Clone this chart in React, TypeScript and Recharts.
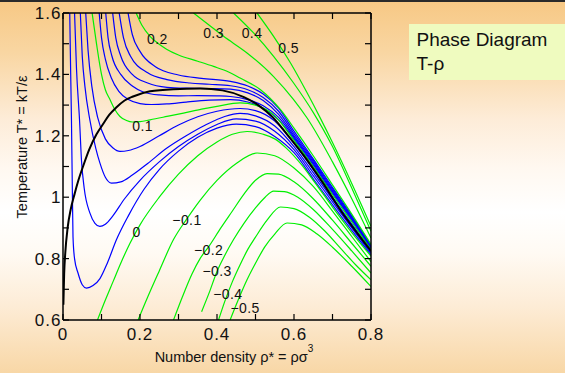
import React from 'react';
import { ComposedChart, Line, Scatter, XAxis, YAxis } from 'recharts';

type P = [number, number];

const xTicks = [0, 0.1, 0.2, 0.3, 0.4, 0.5, 0.6, 0.7, 0.8];
const yTicks = [0.6, 0.7, 0.8, 0.9, 1.0, 1.1, 1.2, 1.3, 1.4, 1.5, 1.6];

// coexistence curve (black)
const coexistence: P[] = [[0.001,0.65],[0.003,0.75],[0.006,0.82],[0.012,0.9],[0.02,0.96],[0.03,1.01],[0.04,1.055],[0.052,1.1],[0.068,1.155],[0.087,1.205],[0.105,1.24],[0.12,1.268],[0.139,1.293],[0.16,1.315],[0.182,1.328],[0.226,1.345],[0.287,1.352],[0.356,1.354],[0.414,1.348],[0.47,1.326],[0.507,1.3],[0.545,1.26],[0.582,1.205],[0.629,1.13],[0.676,1.045],[0.722,0.955],[0.769,0.875],[0.8,0.825]];

// labelled isobars (green)
const p05: P[] = [[0.504,1.6],[0.547,1.524],[0.591,1.437],[0.634,1.34],[0.669,1.256],[0.7,1.178],[0.75,1.045],[0.8,0.905]];
const p04: P[] = [[0.443,1.6],[0.495,1.535],[0.547,1.459],[0.599,1.372],[0.651,1.274],[0.7,1.165],[0.75,1.03],[0.8,0.889]];
const p03: P[] = [[0.339,1.6],[0.38,1.56],[0.417,1.524],[0.478,1.47],[0.547,1.393],[0.599,1.318],[0.634,1.258],[0.7,1.115],[0.75,0.995],[0.8,0.867]];
const p02: P[] = [[0.19,1.6],[0.205,1.56],[0.226,1.524],[0.25,1.498],[0.269,1.482],[0.3,1.463],[0.35,1.443],[0.391,1.426],[0.43,1.408],[0.46,1.388],[0.513,1.35],[0.565,1.285],[0.6,1.225],[0.65,1.135],[0.7,1.04],[0.75,0.945],[0.8,0.846]];
const p01: P[] = [[0.0756,1.6],[0.087,1.5],[0.1,1.4],[0.11,1.35],[0.122,1.318],[0.135,1.285],[0.148,1.263],[0.165,1.25],[0.18,1.245],[0.2,1.246],[0.226,1.252],[0.27,1.263],[0.313,1.274],[0.36,1.287],[0.4,1.296],[0.46,1.307],[0.5,1.3],[0.55,1.265],[0.6,1.185],[0.65,1.1],[0.7,1.008],[0.75,0.92],[0.8,0.829]];
const p00: P[] = [[0.0896,0.6],[0.11,0.665],[0.13,0.725],[0.15,0.785],[0.174,0.85],[0.2,0.91],[0.25,1.0],[0.3,1.075],[0.35,1.135],[0.4,1.18],[0.44,1.205],[0.478,1.214],[0.52,1.205],[0.55,1.19],[0.58,1.16],[0.62,1.105],[0.65,1.055],[0.7,0.968],[0.75,0.885],[0.8,0.808]];
const m01: P[] = [[0.195,0.6],[0.22,0.675],[0.25,0.76],[0.287,0.862],[0.322,0.93],[0.356,0.99],[0.4,1.055],[0.45,1.11],[0.504,1.144],[0.55,1.135],[0.6,1.095],[0.65,1.035],[0.7,0.955],[0.75,0.872],[0.8,0.79]];
const m02: P[] = [[0.287,0.6],[0.31,0.675],[0.335,0.75],[0.356,0.8],[0.378,0.838],[0.41,0.9],[0.44,0.955],[0.47,1.01],[0.5,1.055],[0.53,1.077],[0.56,1.075],[0.6,1.05],[0.65,0.995],[0.7,0.925],[0.75,0.85],[0.8,0.775]];
const m03: P[] = [[0.36,0.627],[0.38,0.69],[0.4,0.758],[0.42,0.81],[0.443,0.862],[0.47,0.915],[0.5,0.965],[0.525,1.0],[0.547,1.02],[0.575,1.018],[0.61,1.0],[0.65,0.96],[0.7,0.895],[0.75,0.825],[0.8,0.753]];
const m04: P[] = [[0.404,0.6],[0.42,0.66],[0.44,0.725],[0.46,0.78],[0.48,0.83],[0.5,0.87],[0.53,0.925],[0.565,0.968],[0.6,0.963],[0.64,0.935],[0.68,0.89],[0.72,0.835],[0.76,0.78],[0.8,0.731]];
const m05: P[] = [[0.434,0.6],[0.455,0.665],[0.478,0.731],[0.5,0.785],[0.525,0.84],[0.55,0.88],[0.582,0.916],[0.62,0.91],[0.66,0.88],[0.7,0.837],[0.75,0.775],[0.8,0.709]];

// intermediate isobars (blue)
const b02: P[] = [[0.0175,1.6],[0.02,1.4],[0.022,1.25],[0.024,1.05],[0.026,0.87],[0.03,0.8],[0.039,0.753],[0.05,0.715],[0.061,0.704],[0.078,0.712],[0.096,0.735],[0.115,0.785],[0.139,0.862],[0.17,0.94],[0.21,1.025],[0.25,1.09],[0.3,1.15],[0.35,1.195],[0.4,1.225],[0.45,1.238],[0.5,1.23],[0.55,1.198],[0.6,1.145],[0.65,1.06],[0.7,0.975],[0.75,0.892],[0.8,0.812]];
const b04: P[] = [[0.03,1.6],[0.035,1.42],[0.043,1.25],[0.048,1.12],[0.055,1.03],[0.07,0.948],[0.083,0.915],[0.0956,0.905],[0.11,0.912],[0.13,0.94],[0.16,0.995],[0.2,1.055],[0.25,1.115],[0.3,1.165],[0.35,1.205],[0.4,1.237],[0.45,1.255],[0.5,1.248],[0.55,1.215],[0.6,1.155],[0.65,1.07],[0.7,0.985],[0.75,0.9],[0.8,0.817]];
const b06: P[] = [[0.045,1.6],[0.05,1.46],[0.057,1.36],[0.07,1.25],[0.085,1.16],[0.096,1.111],[0.11,1.065],[0.126,1.046],[0.15,1.05],[0.18,1.072],[0.22,1.11],[0.27,1.16],[0.32,1.2],[0.37,1.235],[0.42,1.263],[0.46,1.273],[0.5,1.265],[0.55,1.232],[0.6,1.165],[0.65,1.08],[0.7,0.993],[0.75,0.907],[0.8,0.821]];
const b08: P[] = [[0.059,1.6],[0.065,1.48],[0.075,1.36],[0.09,1.26],[0.11,1.19],[0.13,1.16],[0.148,1.149],[0.17,1.152],[0.2,1.165],[0.25,1.2],[0.3,1.235],[0.35,1.262],[0.4,1.28],[0.46,1.289],[0.5,1.282],[0.55,1.248],[0.6,1.175],[0.65,1.09],[0.7,1.0],[0.75,0.913],[0.8,0.825]];
const b12: P[] = [[0.094,1.6],[0.1,1.52],[0.11,1.45],[0.125,1.39],[0.145,1.345],[0.17,1.318],[0.2,1.305],[0.23,1.302],[0.27,1.304],[0.32,1.31],[0.38,1.316],[0.435,1.318],[0.48,1.31],[0.52,1.29],[0.56,1.252],[0.6,1.19],[0.65,1.105],[0.7,1.013],[0.75,0.925],[0.8,0.832]];
const b13: P[] = [[0.111,1.6],[0.117,1.52],[0.127,1.46],[0.15,1.4],[0.18,1.362],[0.21,1.342],[0.25,1.333],[0.3,1.33],[0.35,1.331],[0.4,1.33],[0.435,1.328],[0.48,1.318],[0.52,1.298],[0.56,1.26],[0.6,1.195],[0.65,1.11],[0.7,1.018],[0.75,0.928],[0.8,0.835]];
const b15: P[] = [[0.129,1.6],[0.137,1.52],[0.15,1.46],[0.18,1.4],[0.22,1.372],[0.27,1.358],[0.32,1.355],[0.38,1.354],[0.435,1.352],[0.48,1.34],[0.52,1.315],[0.56,1.27],[0.6,1.2],[0.65,1.115],[0.7,1.022],[0.75,0.932],[0.8,0.838]];
const b17: P[] = [[0.146,1.6],[0.157,1.52],[0.175,1.46],[0.22,1.405],[0.27,1.383],[0.33,1.372],[0.38,1.368],[0.435,1.363],[0.48,1.35],[0.52,1.325],[0.56,1.28],[0.6,1.207],[0.65,1.12],[0.7,1.027],[0.75,0.936],[0.8,0.841]];
const b18: P[] = [[0.169,1.6],[0.18,1.53],[0.2,1.475],[0.24,1.425],[0.3,1.398],[0.36,1.387],[0.435,1.377],[0.48,1.362],[0.52,1.336],[0.56,1.29],[0.6,1.215],[0.65,1.125],[0.7,1.032],[0.75,0.94],[0.8,0.844]];

const blueCurves = [b02, b04, b06, b08, b12, b13, b15, b17, b18];
const greenCurves = [p05, p04, p03, p02, p01, p00, m01, m02, m03, m04, m05];

// contour labels
const labelText = ['0.5', '0.4', '0.3', '0.2', '0.1', '0', '\u22120.1', '\u22120.2', '\u22120.3', '\u22120.4', '\u22120.5'];
const labelRho = [0.586, 0.491, 0.391, 0.245, 0.207, 0.191, 0.322, 0.378, 0.4, 0.428, 0.473];
const labelT = [1.486, 1.535, 1.535, 1.515, 1.231, 0.886, 0.927, 0.829, 0.758, 0.686, 0.639];

const toPts = (c: P[]) => c.map(([rho, t]) => ({ rho, t }));
const labelPts = labelText.map((text, i) => ({ rho: labelRho[i], t: labelT[i], text }));

const FONT = '"Liberation Sans", Arial, Helvetica, sans-serif';
const fmt = (v: number) => String(Math.round(v * 10) / 10);
const isMajor = (v: number) => Math.round(v * 10) % 2 === 0;

const BottomTick = (props: any) => {
  const { x, y, payload } = props;
  const v = payload.value;
  return (
    <g>
      <line x1={x} x2={x} y1={y} y2={y - 6} stroke="#000" strokeWidth={1.2} />
      {isMajor(v) && (
        <text x={x} y={y + 20} textAnchor="middle" fontSize={17} letterSpacing={1} fill="#111" fontFamily={FONT}>
          {fmt(v)}
        </text>
      )}
    </g>
  );
};
const TopTick = (props: any) => {
  const { x, y } = props;
  return <line x1={x} x2={x} y1={y} y2={y + 6} stroke="#000" strokeWidth={1.2} />;
};
const LeftTick = (props: any) => {
  const { x, y, payload } = props;
  const v = payload.value;
  return (
    <g>
      <line x1={x} x2={x + 6} y1={y} y2={y} stroke="#000" strokeWidth={1.2} />
      {isMajor(v) && (
        <text x={x - 1.5} y={y + 6} textAnchor="end" fontSize={17} letterSpacing={1} fill="#111" fontFamily={FONT}>
          {fmt(v)}
        </text>
      )}
    </g>
  );
};
const RightTick = (props: any) => {
  const { x, y } = props;
  return <line x1={x} x2={x - 6} y1={y} y2={y} stroke="#000" strokeWidth={1.2} />;
};

const LabelShape = (props: any) => {
  const { cx, cy, payload } = props;
  return (
    <text x={cx} y={cy + 5} textAnchor="middle" fontSize={14} letterSpacing={0.4} fill="#111" fontFamily={FONT}>
      {payload.text}
    </text>
  );
};

const axisLine = { stroke: '#000', strokeWidth: 1.5 };

export default function App() {
  return (
    <div
      style={{
        position: 'absolute',
        left: 0,
        top: 0,
        width: 565,
        height: 373,
        overflow: 'hidden',
        fontFamily: FONT,
        background:
          'linear-gradient(to bottom, #f7c884 0%, #f9d6a2 14%, #fdecd8 32%, #fff8f0 45%, #ffffff 57%, #fffaf3 68%, #fdecd6 82%, #f8d7a6 100%)',
      }}
    >
      <div style={{ position: 'absolute', left: 0, top: 0, width: 565, height: 2, background: '#2a2a2a' }} />
      <div style={{ position: 'absolute', left: 0, top: 0 }}>
        <ComposedChart width={565} height={373} margin={{ top: 12, right: 193, bottom: 22, left: 13 }}>
          <XAxis
            dataKey="rho"
            type="number"
            domain={[0, 0.8]}
            ticks={xTicks}
            interval={0}
            allowDataOverflow
            height={31}
            tickSize={0}
            tickMargin={0}
            axisLine={axisLine}
            tick={<BottomTick />}
          />
          <XAxis
            xAxisId="top"
            orientation="top"
            dataKey="rho"
            type="number"
            domain={[0, 0.8]}
            ticks={xTicks}
            interval={0}
            allowDataOverflow
            height={1}
            tickSize={0}
            tickMargin={0}
            axisLine={axisLine}
            tick={<TopTick />}
          />
          <YAxis
            type="number"
            domain={[0.6, 1.6]}
            ticks={yTicks}
            interval={0}
            allowDataOverflow
            width={50}
            tickSize={0}
            tickMargin={0}
            axisLine={axisLine}
            tick={<LeftTick />}
          />
          <YAxis
            yAxisId="right"
            orientation="right"
            type="number"
            domain={[0.6, 1.6]}
            ticks={yTicks}
            interval={0}
            allowDataOverflow
            width={1}
            tickSize={0}
            tickMargin={0}
            axisLine={axisLine}
            tick={<RightTick />}
          />
          {blueCurves.map((c, i) => (
            <Line
              key={'b' + i}
              data={toPts(c)}
              dataKey="t"
              type="monotone"
              stroke="#0000ff"
              strokeWidth={1.2}
              dot={false}
              activeDot={false}
              isAnimationActive={false}
            />
          ))}
          {greenCurves.map((c, i) => (
            <Line
              key={'g' + i}
              data={toPts(c)}
              dataKey="t"
              type="monotone"
              stroke="#00f000"
              strokeWidth={1.2}
              dot={false}
              activeDot={false}
              isAnimationActive={false}
            />
          ))}
          <Line
            data={toPts(coexistence)}
            dataKey="t"
            type="monotone"
            stroke="#000"
            strokeWidth={2}
            dot={false}
            activeDot={false}
            isAnimationActive={false}
          />
          <Scatter data={labelPts} dataKey="t" shape={<LabelShape />} isAnimationActive={false} />
        </ComposedChart>
      </div>
      <div
        style={{
          position: 'absolute',
          left: 21.5 - 110,
          top: 147 - 9,
          width: 220,
          height: 18,
          lineHeight: '18px',
          fontSize: 14.5,
          textAlign: 'center',
          color: '#111',
          transform: 'rotate(-90deg)',
          whiteSpace: 'nowrap',
        }}
      >
        Temperature T* = kT/ε
      </div>
      <div
        style={{
          position: 'absolute',
          left: 234 - 120,
          top: 347,
          width: 240,
          height: 20,
          lineHeight: '20px',
          fontSize: 14.5,
          textAlign: 'center',
          color: '#111',
          whiteSpace: 'nowrap',
        }}
      >
        Number density ρ* = ρσ<sup style={{ fontSize: 10, verticalAlign: 'top', lineHeight: '10px', position: 'relative', top: -3 }}>3</sup>
      </div>
      <div
        style={{
          position: 'absolute',
          left: 409,
          top: 24,
          width: 156,
          height: 56,
          background: '#effbbf',
          boxSizing: 'border-box',
          paddingLeft: 7.5,
          paddingTop: 4,
          fontSize: 19,
          lineHeight: '24px',
          color: '#111',
          whiteSpace: 'nowrap',
        }}
      >
        Phase Diagram
        <br />
        T-ρ
      </div>
    </div>
  );
}
